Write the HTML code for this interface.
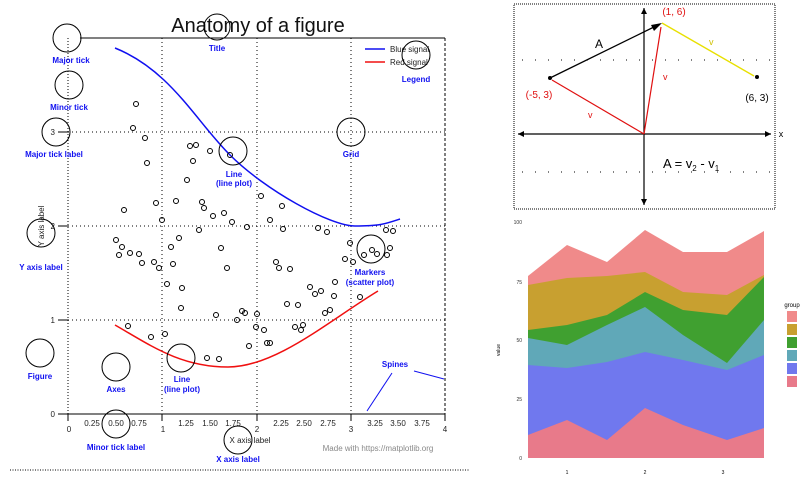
<!DOCTYPE html>
<html><head><meta charset="utf-8"><style>
html,body{margin:0;padding:0;background:#fff;}
svg{display:block;font-family:"Liberation Sans",sans-serif;}
.a{fill:#1010f0;font-weight:bold;font-size:8px;text-anchor:middle;}
.t{font-size:8px;fill:#222;text-anchor:middle;}
</style></head><body>
<svg width="800" height="480" viewBox="0 0 800 480" xmlns="http://www.w3.org/2000/svg">
<!-- left figure -->
<line x1="10" y1="470" x2="470" y2="470" stroke="#000" stroke-dasharray="1,1.5"/>
<text x="258" y="32" font-size="20" text-anchor="middle" fill="#111">Anatomy of a figure</text>
<!-- grid -->
<g stroke="#000" stroke-dasharray="1,3" stroke-width="1">
<line x1="162" y1="38" x2="162" y2="414"/><line x1="257" y1="38" x2="257" y2="414"/><line x1="351" y1="38" x2="351" y2="414"/>
<line x1="68" y1="132" x2="445" y2="132"/><line x1="68" y1="226" x2="445" y2="226"/><line x1="68" y1="320" x2="445" y2="320"/>
</g>
<line x1="80" y1="38" x2="445" y2="38" stroke="#000"/>
<line x1="445" y1="38" x2="445" y2="414" stroke="#000" stroke-dasharray="3,2"/>
<line x1="68" y1="38" x2="68" y2="414" stroke="#000" stroke-dasharray="1,2"/>
<line x1="58" y1="414" x2="445" y2="414" stroke="#000"/>
<g stroke="#000">
<line x1="58" y1="320" x2="68" y2="320"/><line x1="58" y1="226" x2="68" y2="226"/><line x1="58" y1="132" x2="68" y2="132"/>
<line x1="68" y1="414" x2="68" y2="421"/><line x1="162" y1="414" x2="162" y2="421"/><line x1="257" y1="414" x2="257" y2="421"/><line x1="351" y1="414" x2="351" y2="421"/><line x1="445" y1="414" x2="445" y2="421"/>
</g>
<g class="t" font-size="8">
<text x="55" y="417" text-anchor="end">0</text><text x="55" y="323" text-anchor="end">1</text><text x="55" y="229" text-anchor="end">2</text><text x="55" y="135" text-anchor="end">3</text>
<text x="69" y="432">0</text><text x="92" y="426">0.25</text><text x="116" y="426">0.50</text><text x="139" y="426">0.75</text>
<text x="163" y="432">1</text><text x="186" y="426">1.25</text><text x="210" y="426">1.50</text><text x="233" y="426">1.75</text>
<text x="257" y="432">2</text><text x="281" y="426">2.25</text><text x="304" y="426">2.50</text><text x="328" y="426">2.75</text>
<text x="351" y="432">3</text><text x="375" y="426">3.25</text><text x="398" y="426">3.50</text><text x="422" y="426">3.75</text><text x="445" y="432">4</text>
<text x="250" y="443">X axis label</text>
<text x="44" y="226" transform="rotate(-90 44 226)">Y axis label</text>
<text x="378" y="451" fill="#888">Made with https://matplotlib.org</text>
</g>
<!-- curves -->
<path d="M115,48 C170,70 195,120 230,155 S330,226 355,226 S385,224 400,219" fill="none" stroke="#1010f0" stroke-width="1.5"/>
<path d="M115,325 C150,345 180,367 228,367 S330,320 378,291" fill="none" stroke="#f01010" stroke-width="1.5"/>
<!-- scatter -->
<g fill="none" stroke="#000" stroke-width="1">
<circle cx="136" cy="104" r="2.5"/><circle cx="133" cy="128" r="2.5"/><circle cx="145" cy="138" r="2.5"/><circle cx="190" cy="146" r="2.5"/><circle cx="196" cy="145" r="2.5"/><circle cx="210" cy="151" r="2.5"/><circle cx="147" cy="163" r="2.5"/><circle cx="193" cy="161" r="2.5"/><circle cx="230" cy="155" r="2.5"/><circle cx="187" cy="180" r="2.5"/><circle cx="156" cy="203" r="2.5"/><circle cx="176" cy="201" r="2.5"/><circle cx="202" cy="202" r="2.5"/><circle cx="204" cy="208" r="2.5"/><circle cx="124" cy="210" r="2.5"/><circle cx="162" cy="220" r="2.5"/><circle cx="213" cy="216" r="2.5"/><circle cx="224" cy="213" r="2.5"/><circle cx="232" cy="222" r="2.5"/><circle cx="261" cy="196" r="2.5"/><circle cx="282" cy="206" r="2.5"/><circle cx="270" cy="220" r="2.5"/><circle cx="247" cy="227" r="2.5"/><circle cx="179" cy="238" r="2.5"/><circle cx="199" cy="230" r="2.5"/><circle cx="318" cy="228" r="2.5"/><circle cx="327" cy="232" r="2.5"/><circle cx="386" cy="230" r="2.5"/><circle cx="393" cy="231" r="2.5"/><circle cx="283" cy="229" r="2.5"/>
<circle cx="116" cy="240" r="2.5"/><circle cx="122" cy="247" r="2.5"/><circle cx="119" cy="255" r="2.5"/><circle cx="130" cy="253" r="2.5"/><circle cx="139" cy="254" r="2.5"/><circle cx="142" cy="263" r="2.5"/><circle cx="154" cy="262" r="2.5"/><circle cx="159" cy="268" r="2.5"/><circle cx="171" cy="247" r="2.5"/><circle cx="173" cy="264" r="2.5"/><circle cx="167" cy="284" r="2.5"/><circle cx="182" cy="288" r="2.5"/><circle cx="181" cy="308" r="2.5"/><circle cx="216" cy="315" r="2.5"/><circle cx="221" cy="248" r="2.5"/><circle cx="227" cy="268" r="2.5"/><circle cx="237" cy="320" r="2.5"/><circle cx="242" cy="311" r="2.5"/><circle cx="245" cy="313" r="2.5"/><circle cx="256" cy="327" r="2.5"/><circle cx="249" cy="346" r="2.5"/><circle cx="264" cy="330" r="2.5"/><circle cx="257" cy="314" r="2.5"/><circle cx="267" cy="343" r="2.5"/><circle cx="276" cy="262" r="2.5"/><circle cx="279" cy="268" r="2.5"/><circle cx="290" cy="269" r="2.5"/><circle cx="287" cy="304" r="2.5"/><circle cx="298" cy="305" r="2.5"/><circle cx="295" cy="327" r="2.5"/><circle cx="301" cy="330" r="2.5"/><circle cx="303" cy="325" r="2.5"/><circle cx="310" cy="287" r="2.5"/><circle cx="315" cy="294" r="2.5"/><circle cx="321" cy="291" r="2.5"/><circle cx="325" cy="313" r="2.5"/><circle cx="330" cy="310" r="2.5"/><circle cx="334" cy="296" r="2.5"/><circle cx="335" cy="282" r="2.5"/><circle cx="350" cy="243" r="2.5"/><circle cx="345" cy="259" r="2.5"/><circle cx="353" cy="262" r="2.5"/><circle cx="360" cy="297" r="2.5"/><circle cx="364" cy="255" r="2.5"/><circle cx="372" cy="250" r="2.5"/><circle cx="377" cy="254" r="2.5"/><circle cx="387" cy="255" r="2.5"/><circle cx="390" cy="248" r="2.5"/><circle cx="128" cy="326" r="2.5"/><circle cx="151" cy="337" r="2.5"/><circle cx="165" cy="334" r="2.5"/><circle cx="207" cy="358" r="2.5"/><circle cx="219" cy="359" r="2.5"/><circle cx="270" cy="343" r="2.5"/>
</g>
<!-- legend -->
<line x1="365" y1="49" x2="385" y2="49" stroke="#1010f0" stroke-width="1.5"/>
<line x1="365" y1="62" x2="385" y2="62" stroke="#f01010" stroke-width="1.5"/>
<text x="390" y="52" font-size="8" fill="#222">Blue signal</text>
<text x="390" y="65" font-size="8" fill="#222">Red signal</text>
<!-- annotation circles -->
<g fill="none" stroke="#000" stroke-width="1">
<circle cx="67" cy="38" r="14"/><circle cx="69" cy="85" r="14"/><circle cx="56" cy="132" r="14"/><circle cx="217" cy="27" r="13"/><circle cx="416" cy="55" r="14"/><circle cx="233" cy="151" r="14"/><circle cx="351" cy="132" r="14"/><circle cx="41" cy="233" r="14"/><circle cx="371" cy="249" r="14"/><circle cx="40" cy="353" r="14"/><circle cx="116" cy="367" r="14"/><circle cx="181" cy="358" r="14"/><circle cx="116" cy="424" r="14"/><circle cx="238" cy="440" r="14"/>
</g>
<g class="a">
<text x="217" y="51">Title</text><text x="71" y="63">Major tick</text><text x="69" y="110">Minor tick</text><text x="54" y="157">Major tick label</text><text x="416" y="82">Legend</text><text x="351" y="157">Grid</text>
<text x="234" y="177">Line</text><text x="234" y="186">(line plot)</text>
<text x="41" y="270">Y axis label</text>
<text x="370" y="275">Markers</text><text x="370" y="285">(scatter plot)</text>
<text x="40" y="379">Figure</text><text x="116" y="392">Axes</text>
<text x="182" y="382">Line</text><text x="182" y="392">(line plot)</text>
<text x="395" y="367">Spines</text>
<text x="116" y="450">Minor tick label</text><text x="238" y="462">X axis label</text>
</g>
<g stroke="#1010f0" stroke-width="1"><line x1="392" y1="373" x2="367" y2="411"/><line x1="414" y1="371" x2="444" y2="379"/></g>
<!-- right top vector plot -->
<rect x="514" y="4" width="261" height="205" fill="none" stroke="#000" stroke-dasharray="1,1"/>
<line x1="518" y1="134" x2="771" y2="134" stroke="#000" stroke-width="1.2"/>
<line x1="644" y1="8" x2="644" y2="205" stroke="#000" stroke-width="1.2"/>
<path d="M518,134 l6,-3 v6z M771,134 l-6,-3 v6z M644,8 l-3,6 h6z M644,205 l-3,-6 h6z" fill="#000"/>
<text x="781" y="137" font-size="9" text-anchor="middle">x</text>
<g stroke="#000" stroke-dasharray="1,12"><line x1="522" y1="60" x2="770" y2="60"/><line x1="522" y1="172" x2="770" y2="172"/></g>
<line x1="550" y1="78" x2="658" y2="25" stroke="#000" stroke-width="1.3"/>
<path d="M662,23 l-11,2 3,6z" fill="#000"/>
<line x1="644" y1="134" x2="552" y2="80" stroke="#e01010" stroke-width="1.2"/>
<line x1="644" y1="134" x2="661" y2="27" stroke="#e01010" stroke-width="1.2"/>
<line x1="662" y1="23" x2="754" y2="76" stroke="#e8e000" stroke-width="1.3"/>
<circle cx="550" cy="78" r="2" fill="#000"/><circle cx="757" cy="77" r="2" fill="#000"/>
<text x="599" y="48" font-size="12" text-anchor="middle">A</text>
<text x="539" y="98" font-size="10" fill="#e01010" text-anchor="middle">(-5, 3)</text>
<text x="674" y="15" font-size="10" fill="#e01010" text-anchor="middle">(1, 6)</text>
<text x="757" y="101" font-size="10" text-anchor="middle">(6, 3)</text>
<text x="588" y="118" font-size="9" fill="#e01010">v</text><text x="663" y="80" font-size="9" fill="#e01010">v</text><text x="709" y="45" font-size="9" fill="#d0c000">v</text>
<text x="663" y="168" font-size="13">A  =  v<tspan font-size="8" dy="3">2</tspan><tspan dy="-3"> - v</tspan><tspan font-size="8" dy="3">1</tspan></text>
<!-- right bottom stacked area -->
<path d="M528,276 L567,245 L607,262 L645,230 L683,252 L727,252 L764,231 L764,458 L528,458Z" fill="#f08a8a"/>
<path d="M528,285 L567,278 L607,276 L645,272 L683,292 L727,295 L764,275 L764,458 L528,458Z" fill="#c8a030"/>
<path d="M528,330 L567,325 L607,315 L645,292 L683,310 L727,315 L764,277 L764,458 L528,458Z" fill="#40a030"/>
<path d="M528,338 L567,345 L607,325 L645,307 L683,335 L727,363 L764,320 L764,458 L528,458Z" fill="#60a8b8"/>
<path d="M528,365 L567,368 L607,362 L645,352 L683,360 L727,370 L764,355 L764,458 L528,458Z" fill="#7078ee"/>
<path d="M528,435 L567,420 L607,440 L645,408 L683,425 L727,440 L764,428 L764,458 L528,458Z" fill="#e87a8a"/>
<g font-size="5" fill="#333" text-anchor="end"><text x="522" y="224">100</text><text x="522" y="284">75</text><text x="522" y="342">50</text><text x="522" y="401">25</text><text x="522" y="460">0</text></g>
<text x="500" y="350" font-size="5" transform="rotate(-90 500 350)" text-anchor="middle">value</text>
<g font-size="5" text-anchor="middle"><text x="567" y="474">1</text><text x="645" y="474">2</text><text x="723" y="474">3</text></g>
<text x="792" y="307" font-size="6" text-anchor="middle">group</text>
<rect x="787" y="311" width="10" height="11" fill="#f08a8a"/><rect x="787" y="324" width="10" height="11" fill="#c8a030"/><rect x="787" y="337" width="10" height="11" fill="#40a030"/><rect x="787" y="350" width="10" height="11" fill="#60a8b8"/><rect x="787" y="363" width="10" height="11" fill="#7078ee"/><rect x="787" y="376" width="10" height="11" fill="#e87a8a"/>
</svg>
</body></html>
